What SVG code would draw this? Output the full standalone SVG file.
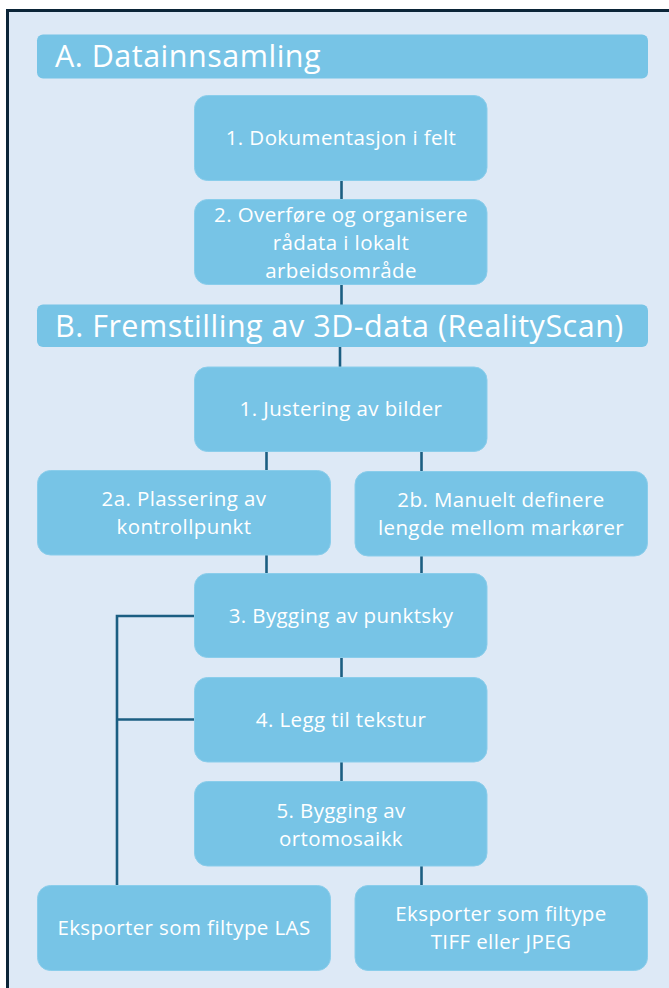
<svg xmlns="http://www.w3.org/2000/svg" width="669" height="988" viewBox="0 0 669 988">
<style>
.hdr{fill:#77C4E6;}
.box{fill:#77C4E6;stroke:#8ACDEB;stroke-width:1;}
.ht{font-family:"Open Sans","Liberation Sans",sans-serif;font-size:30.5px;letter-spacing:0.5px;fill:#FFFFFF;}
.t{font-family:"Open Sans","Liberation Sans",sans-serif;font-size:20.5px;letter-spacing:0.4px;fill:#FFFFFF;text-anchor:middle;}
.c{fill:none;stroke:#1B5E82;stroke-width:2.6;}
</style>
<rect x="0" y="0" width="669" height="988" fill="#FFFFFF"/>
<rect x="7.5" y="10.5" width="700" height="1000" fill="#DDE9F6" stroke="#0B2538" stroke-width="3"/>
<g id="connectors">
<line class="c" x1="341.5" y1="180" x2="341.5" y2="200"/>
<line class="c" x1="341.5" y1="284" x2="341.5" y2="305"/>
<line class="c" x1="340" y1="346" x2="340" y2="368"/>
<line class="c" x1="266.5" y1="451" x2="266.5" y2="471"/>
<line class="c" x1="421.5" y1="451" x2="421.5" y2="472"/>
<line class="c" x1="266.5" y1="554" x2="266.5" y2="574"/>
<line class="c" x1="421.5" y1="555" x2="421.5" y2="574"/>
<line class="c" x1="341.5" y1="657" x2="341.5" y2="678"/>
<line class="c" x1="341.5" y1="761" x2="341.5" y2="782"/>
<line class="c" x1="421.5" y1="865" x2="421.5" y2="886"/>
<polyline class="c" points="195,616 117,616 117,886"/>
<line class="c" x1="117" y1="719.5" x2="195" y2="719.5"/>
</g>
<g id="headerA">
<rect class="hdr" x="37" y="34.5" width="611" height="44" rx="6"/>
<text class="ht" x="55" y="67">A. Datainnsamling</text>
</g>
<g id="n1">
<rect class="box" x="194.5" y="95.5" width="292.5" height="85" rx="13"/>
<text class="t" x="341" y="145">1. Dokumentasjon i felt</text>
</g>
<g id="n2">
<rect class="box" x="194.5" y="199.5" width="292.5" height="85" rx="13"/>
<text class="t" x="341" y="221.5">2. Overføre og organisere</text>
<text class="t" x="341" y="249.5">rådata i lokalt</text>
<text class="t" x="341" y="277.5">arbeidsområde</text>
</g>
<g id="headerB">
<rect class="hdr" x="37" y="304.5" width="611" height="42.5" rx="6"/>
<text class="ht" x="55" y="337">B. Fremstilling av 3D-data (RealityScan)</text>
</g>
<g id="n3">
<rect class="box" x="194.5" y="367" width="292.5" height="84.5" rx="13"/>
<text class="t" x="341" y="416">1. Justering av bilder</text>
</g>
<g id="n4a">
<rect class="box" x="37.5" y="470.5" width="293" height="84.5" rx="13"/>
<text class="t" x="184" y="506">2a. Plassering av</text>
<text class="t" x="184" y="534">kontrollpunkt</text>
</g>
<g id="n4b">
<rect class="box" x="355" y="471.5" width="292.5" height="84.5" rx="13"/>
<text class="t" x="501" y="507">2b. Manuelt definere</text>
<text class="t" x="501" y="535">lengde mellom markører</text>
</g>
<g id="n5">
<rect class="box" x="194.5" y="573.5" width="292.5" height="84" rx="13"/>
<text class="t" x="341" y="623">3. Bygging av punktsky</text>
</g>
<g id="n6">
<rect class="box" x="194.5" y="677.5" width="292.5" height="84.5" rx="13"/>
<text class="t" x="341" y="726.5">4. Legg til tekstur</text>
</g>
<g id="n7">
<rect class="box" x="194.5" y="781.5" width="292.5" height="84.5" rx="13"/>
<text class="t" x="341" y="817.5">5. Bygging av</text>
<text class="t" x="341" y="845.5">ortomosaikk</text>
</g>
<g id="n8">
<rect class="box" x="37.5" y="885.5" width="293" height="85" rx="13"/>
<text class="t" x="184" y="935">Eksporter som filtype LAS</text>
</g>
<g id="n9">
<rect class="box" x="355" y="885.5" width="292.5" height="85" rx="13"/>
<text class="t" x="501" y="921">Eksporter som filtype</text>
<text class="t" x="501" y="949">TIFF eller JPEG</text>
</g>
</svg>
